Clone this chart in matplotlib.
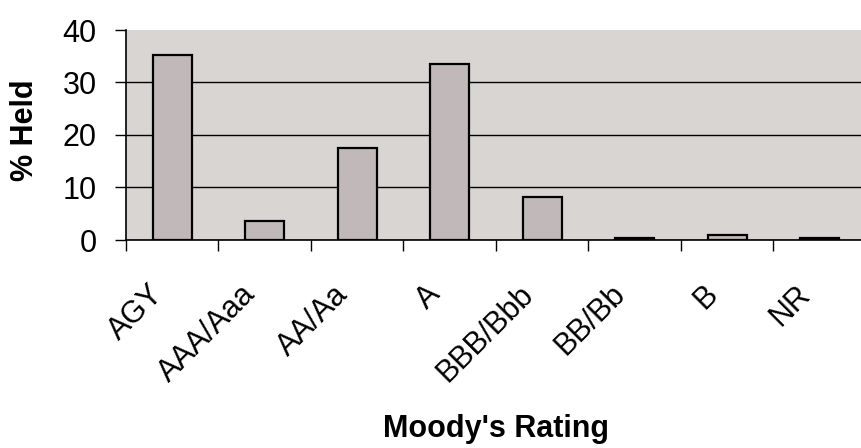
# Moody's rating bar chart
import matplotlib.pyplot as plt
import matplotlib.transforms as mtransforms
import numpy as np

# Data
ratings = ['AGY', 'AAA/Aaa', 'AA/Aa', 'A', 'BBB/Bbb', 'BB/Bb', 'B', 'NR']
held = [35.3, 3.6, 17.5, 33.5, 8.2, 0.4, 1.0, 0.4]
yticks = [0, 10, 20, 30, 40]

plt.rcParams['font.family'] = ['Liberation Sans', 'DejaVu Sans']

W, H = 862, 448
fig = plt.figure(figsize=(W / 100, H / 100), dpi=100)
ax = fig.add_axes([126 / W, 1 - 240 / H, 740 / W, 210 / H])
ax.set_facecolor('#d9d5d2')

x = np.arange(len(ratings))
ax.bar(x, held, width=0.42, color='#c1b9b9', edgecolor='black', linewidth=1.6, zorder=3)

ax.set_xlim(-0.5, len(ratings) - 0.5)
ax.set_ylim(0, 40)
ax.set_yticks(yticks)
ax.tick_params(axis='y', labelsize=22, length=8, width=1, pad=13)
ax.yaxis.grid(True, color='black', linewidth=1, zorder=1)
ax.yaxis.get_gridlines()[-1].set_visible(False)

# x ticks at category boundaries, labels at centres
ax.set_xticks(np.arange(len(ratings) + 1) - 0.5)
ax.set_xticklabels([])
ax.set_xticks(x, minor=True)
ax.set_xticklabels(ratings, minor=True, rotation=45, ha='right', va='baseline',
                   rotation_mode='anchor', fontsize=22)
ax.tick_params(axis='x', which='major', length=8, width=1)
ax.tick_params(axis='x', which='minor', length=0, pad=40)
shift = mtransforms.ScaledTranslation(-8 / 100, 0, fig.dpi_scale_trans)
for lab in ax.get_xticklabels(minor=True):
    lab.set_transform(lab.get_transform() + shift)

for s in ['top', 'right']:
    ax.spines[s].set_visible(False)
ax.spines['left'].set_linewidth(1.2)
ax.spines['bottom'].set_linewidth(1.2)

fig.text(25 / W, 1 - 130 / H, '% Held', fontsize=22, fontweight='bold',
         rotation=90, ha='center', va='center')
fig.text(496 / W, 1 - 437 / H, "Moody's Rating", fontsize=22, fontweight='bold',
         ha='center', va='baseline')

plt.savefig('out.png', dpi=100)
